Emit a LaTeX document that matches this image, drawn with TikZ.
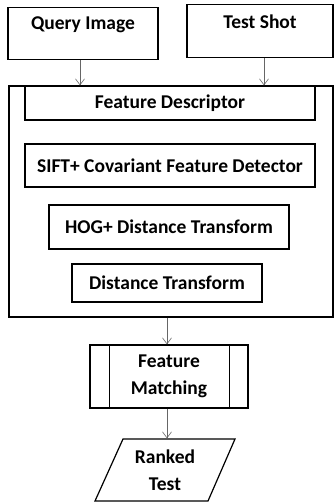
\documentclass[tikz,border=0pt]{standalone}
\usepackage{fontspec}
\setmainfont{Carlito}
\usepackage{tikz}
\usetikzlibrary{positioning}
\usetikzlibrary{arrows.meta}
\usetikzlibrary{calc}
\tikzset{main box/.style={draw,line width=1.2pt,inner sep=0pt,font=\fontsize{19.5}{27}\selectfont\bfseries,align=center},
  flow arrow/.style={draw=black!60,line width=0.6pt,-{Straight Barb[length=6pt,width=9pt]}},}

\begin{document}
\begin{tikzpicture}[x=1pt,y=-1pt]
    \useasboundingbox (0,0) rectangle (334,504);
    \node[main box, anchor=north, minimum width=150pt, text height=22pt, text depth=30pt] (query) at (83,7) {Query Image};
    \node[main box, anchor=north, minimum width=146pt, text height=24pt, text depth=29pt] (shot) at (260,4) {Test Shot};
    \node[main box, minimum width=324pt, minimum height=231pt] (frame) at (171,201.5) {};
    \node[main box, minimum width=290pt, minimum height=34pt] (desc) at (170,103) {Feature Descriptor};
    \node[main box, minimum width=290pt, minimum height=43pt] (sift) at (170,165.5) {SIFT+ Covariant Feature Detector};
    \node[main box, minimum width=240pt, minimum height=44pt] (hog) at (169,227) {HOG+ Distance Transform};
    \node[main box, minimum width=190pt, minimum height=38pt] (dist) at (167,283) {Distance Transform};
    \node[main box, minimum width=158pt, minimum height=63pt] (match) at (169,376.5) {Feature\\Matching};
    \draw[line width=1.2pt] ([xshift=20pt]match.north west) -- ([xshift=20pt]match.south west)
        ([xshift=-19pt]match.north east) -- ([xshift=-19pt]match.south east);
    % output parallelogram
    \node[main box, draw=none, minimum width=140pt, minimum height=62pt] (ranked) at (165,470) {Ranked\\Test};
    \draw[line width=1.2pt] ($(ranked.center)+(-42,-31)$) -- ($(ranked.center)+(70,-31)$)
        -- ($(ranked.center)+(43,31)$) -- ($(ranked.center)+(-70,31)$) -- cycle;

    \draw[flow arrow] ([xshift=-3pt]query.south) -- ([xshift=-3pt]query.south |- frame.north);
    \draw[flow arrow] ([xshift=4pt]shot.south) -- ([xshift=4pt]shot.south |- frame.north);
    \draw[flow arrow] ([xshift=-2pt]match.north |- frame.south) -- ([xshift=-2pt]match.north);
    \draw[flow arrow] ([xshift=-2pt]match.south) -- ([xshift=-2pt]match.south |- ranked.north);
\end{tikzpicture}
\end{document}
